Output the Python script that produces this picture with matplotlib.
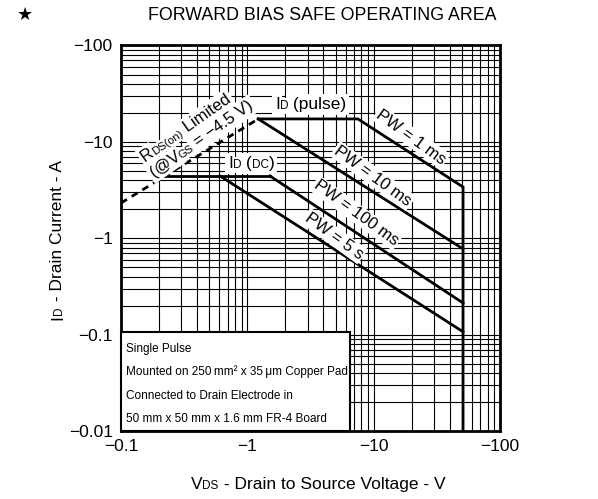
import matplotlib.pyplot as plt
from matplotlib.font_manager import FontProperties
import numpy as np

plt.rcParams['font.family'] = ['Liberation Sans', 'DejaVu Sans']

# values (magnitudes, V and A; the axes show them negative)
rds_v = [0.1, 1.22]
rds_i = [2.32, 17.3]
pulse_v = [1.22, 7.5, 51, 51]
pulse_i = [17.3, 17.3, 3.4, 0.01]
dc_v = [0.224, 1.51]
dc_i = [4.43, 4.43]
pw10ms_v = [1.22, 51]
pw10ms_i = [17.3, 0.775]
pw100ms_v = [1.51, 51]
pw100ms_i = [4.43, 0.213]
pw5s_v = [0.608, 51]
pw5s_i = [4.43, 0.107]

xticks = [0.1, 1, 10, 100]
xticklabels = ['\u22120.1', '\u22121', '\u221210', '\u2212100']
yticks = [0.01, 0.1, 1, 10, 100]
yticklabels = ['\u22120.01', '\u22120.1', '\u22121', '\u221210', '\u2212100']

W, H = 598, 499
fig = plt.figure(figsize=(W / 100, H / 100), dpi=100)
ax = fig.add_axes([121 / W, 1 - 431 / H, (500 - 121) / W, (431 - 45.5) / H])
ax.set_xscale('log')
ax.set_yscale('log')
ax.set_xlim(0.1, 100)
ax.set_ylim(0.01, 100)
ax.set_xticks(xticks)
ax.set_xticklabels(xticklabels)
ax.set_yticks(yticks)
ax.set_yticklabels(yticklabels)
ax.tick_params(which='both', length=0, labelsize=12.5, pad=6)
ax.grid(True, which='both', color='black', lw=0.8)
ax.set_axisbelow(True)
for s in ax.spines.values():
    s.set_linewidth(2)

lw = 2.0
ax.plot(rds_v, rds_i, color='black', lw=lw, ls=(0, (2.5, 2)), zorder=3)
ax.plot(pulse_v, pulse_i, color='black', lw=lw, zorder=3, solid_joinstyle='miter')
ax.plot(dc_v, dc_i, color='black', lw=lw, zorder=3)
ax.plot(pw10ms_v, pw10ms_i, color='black', lw=lw, zorder=3)
ax.plot(pw100ms_v, pw100ms_i, color='black', lw=lw, zorder=3)
ax.plot(pw5s_v, pw5s_i, color='black', lw=lw, zorder=3)

renderer = fig.canvas.get_renderer()


def parts_text(x, y, parts, rot=0, center=False, bg=False):
    # draw a row of (text, size) pieces on one baseline, x/y in figure pixels
    widths = []
    for s, fs in parts:
        fp = FontProperties(family=['Liberation Sans', 'DejaVu Sans'], size=fs)
        w, h, d = renderer.get_text_width_height_descent(s, fp, ismath=False)
        widths.append(w)
    c, sn = np.cos(np.radians(rot)), np.sin(np.radians(rot))
    tot = sum(widths)
    if center:
        x -= tot / 2 * c
        y -= tot / 2 * sn
    pos = 0
    for (s, fs), w in zip(parts, widths):
        px, py = x + pos * c, y + pos * sn
        kw = dict(fontsize=fs, rotation=rot, rotation_mode='anchor', ha='left', va='baseline',
                  transform=None)
        if bg:
            fig.text(px, py, s, color='white', zorder=4,
                     bbox=dict(boxstyle='square,pad=0.15', fc='white', ec='none'), **kw)
        fig.text(px, py, s, color='black', zorder=5, **kw)
        pos += w


def fy(py):
    return H - py


# titles and axis labels
fig.text(25 / W, 1 - 15 / H, '\u2605', fontsize=13, ha='center', va='center', family='DejaVu Sans')
fig.text(322 / W, 1 - 15 / H, 'FORWARD BIAS SAFE OPERATING AREA', fontsize=12.8, ha='center', va='center')
parts_text(318, fy(489), [('V', 12.5), ('DS', 8.5), (' - Drain to Source Voltage - V', 12.5)], center=True)
parts_text(62, fy(240), [('I', 12.5), ('D', 8.5), (' - Drain Current - A', 12.5)], rot=90, center=True)

# curve labels
parts_text(275, fy(109), [('I', 12.5), ('D', 8.5), (' (pulse)', 12.5)], bg=True)
parts_text(228, fy(168), [('I', 12.5), ('D', 8.5), (' (', 12.5), ('DC', 8.5), (')', 12.5)], bg=True)
parts_text(145, fy(162), [('R', 12), ('DS(on)', 8), (' Limited', 12)], rot=35, bg=True)
parts_text(154, fy(178), [('(@V', 12), ('GS', 8), (' = \u22124.5 V)', 12)], rot=35, bg=True)

bb = dict(boxstyle='square,pad=0.1', fc='white', ec='none')
for lab, (px, py) in [('PW = 1 ms', (411, 137)), ('PW = 10 ms', (373, 176)),
                      ('PW = 100 ms', (356, 213)), ('PW = 5 s', (334, 236))]:
    fig.text(px / W, 1 - py / H, lab, fontsize=12, rotation=-36, ha='center', va='center',
             rotation_mode='anchor', bbox=bb, zorder=5)

# note box in the lower left corner
note = ['Single Pulse', 'Mounted on 250\u2009mm\u00b2 x 35\u2009\u03bcm Copper Pad',
        'Connected to Drain Electrode in', '50 mm x 50 mm x 1.6 mm FR-4 Board']
x0, x1, y0 = 121, 350, 332
fig.patches.append(plt.Rectangle((x0 / W, 1 - 431 / H), (x1 - x0) / W, (431 - y0) / H,
                                 transform=fig.transFigure, fc='white', ec='black', lw=1.5, zorder=4))
for k, line in enumerate(note):
    fig.text(126 / W, 1 - (352 + 23.3 * k) / H, line, fontsize=8.5, ha='left', va='baseline', zorder=5)

fig.savefig('out.png', dpi=100)
